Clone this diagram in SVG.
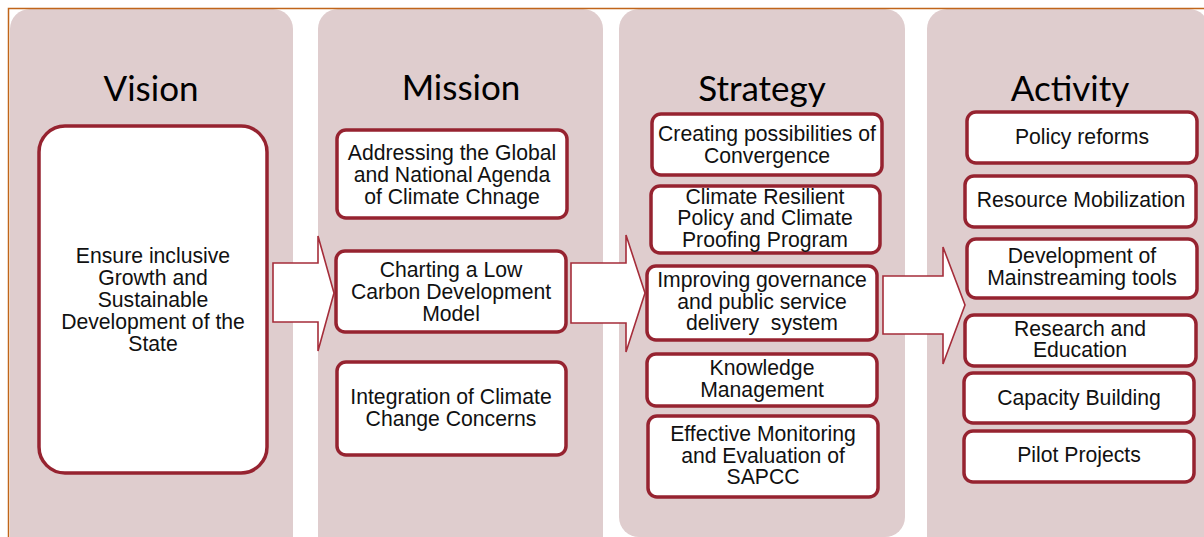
<svg xmlns="http://www.w3.org/2000/svg" width="1204" height="537" viewBox="0 0 1204 537">
  <style>
    .panel { fill: #dfcdce; }
    .title { font-family: Lato, "Open Sans", sans-serif; font-size: 35px; fill: #000; text-anchor: middle; }
    .box { fill: #ffffff; stroke: #962330; stroke-width: 3.5; }
    .lbl { font-family: "Liberation Sans", Arial, sans-serif; font-size: 21.2px; fill: #111; text-anchor: middle; }
    .arrow { fill: #ffffff; stroke: #a52d3a; stroke-width: 1.6; stroke-linejoin: miter; }
    .frame { fill: none; stroke: #c0651a; stroke-width: 1.5; }
  </style>

  <rect x="0" y="0" width="1204" height="537" fill="#ffffff"/>

  <!-- column backgrounds -->
  <g id="panels">
    <rect class="panel" x="10" y="9" width="283" height="550" rx="20"/>
    <rect class="panel" x="318" y="9" width="285" height="550" rx="20"/>
    <rect class="panel" x="619" y="9" width="286" height="528" rx="20"/>
    <rect class="panel" x="927" y="9" width="282" height="550" rx="20"/>
  </g>

  <!-- outer frame (top and left edges) -->
  <path class="frame" d="M8.5 537 V8.5 H1204"/>

  <!-- column headings -->
  <g id="titles">
    <text class="title" x="151" y="101">Vision</text>
    <text class="title" x="461" y="100">Mission</text>
    <text class="title" x="762" y="101">Strategy</text>
    <text class="title" x="1070" y="101">Activity</text>
  </g>

  <!-- block arrows between columns -->
  <g id="connectors">
    <path class="arrow" d="M273 263 H318 V236 L334 293 L318 351 V322 H273 Z"/>
    <path class="arrow" d="M571 263 H626 V235 L645 293 L626 352 V323 H571 Z"/>
    <path class="arrow" d="M883 276 H943 V247 L965 305 L943 364 V334 H883 Z"/>
  </g>

  <!-- Vision -->
  <g id="vision">
    <rect class="box" x="39" y="126" width="228" height="347" rx="26"/>
    <text class="lbl" x="153" y="263">Ensure inclusive</text>
    <text class="lbl" x="153" y="285">Growth and</text>
    <text class="lbl" x="153" y="307">Sustainable</text>
    <text class="lbl" x="153" y="329">Development of the</text>
    <text class="lbl" x="153" y="351">State</text>
  </g>

  <!-- Mission -->
  <g id="mission-agenda">
    <rect class="box" x="337" y="130" width="230" height="88" rx="9"/>
    <text class="lbl" x="452" y="160">Addressing the Global</text>
    <text class="lbl" x="452" y="182">and National Agenda</text>
    <text class="lbl" x="452" y="204">of Climate Chnage</text>
  </g>
  <g id="mission-lowcarbon">
    <rect class="box" x="336" y="251" width="230" height="81" rx="9"/>
    <text class="lbl" x="451" y="277">Charting a Low</text>
    <text class="lbl" x="451" y="299">Carbon Development</text>
    <text class="lbl" x="451" y="321">Model</text>
  </g>
  <g id="mission-integration">
    <rect class="box" x="337" y="362" width="229" height="93" rx="9"/>
    <text class="lbl" x="451" y="404">Integration of Climate</text>
    <text class="lbl" x="451" y="426">Change Concerns</text>
  </g>

  <!-- Strategy -->
  <g id="strategy-convergence">
    <rect class="box" x="652" y="114" width="230" height="61" rx="9"/>
    <text class="lbl" x="767" y="141">Creating possibilities of</text>
    <text class="lbl" x="767" y="163">Convergence</text>
  </g>
  <g id="strategy-resilient">
    <rect class="box" x="651" y="186" width="229" height="67" rx="9"/>
    <text class="lbl" x="765" y="204">Climate Resilient</text>
    <text class="lbl" x="765" y="225">Policy and Climate</text>
    <text class="lbl" x="765" y="247">Proofing Program</text>
  </g>
  <g id="strategy-governance">
    <rect class="box" x="647" y="266" width="230" height="74" rx="9"/>
    <text class="lbl" x="762" y="287">Improving governance</text>
    <text class="lbl" x="762" y="309">and public service</text>
    <text class="lbl" x="762" y="330" xml:space="preserve">delivery  system</text>
  </g>
  <g id="strategy-knowledge">
    <rect class="box" x="647" y="354" width="230" height="52" rx="9"/>
    <text class="lbl" x="762" y="375">Knowledge</text>
    <text class="lbl" x="762" y="397">Management</text>
  </g>
  <g id="strategy-monitoring">
    <rect class="box" x="648" y="416" width="230" height="81" rx="9"/>
    <text class="lbl" x="763" y="441">Effective Monitoring</text>
    <text class="lbl" x="763" y="463">and Evaluation of</text>
    <text class="lbl" x="763" y="484">SAPCC</text>
  </g>

  <!-- Activity -->
  <g id="activity-policy">
    <rect class="box" x="967" y="112" width="230" height="51" rx="9"/>
    <text class="lbl" x="1082" y="144">Policy reforms</text>
  </g>
  <g id="activity-resource">
    <rect class="box" x="965" y="176" width="231" height="51" rx="9"/>
    <text class="lbl" x="1081" y="207">Resource Mobilization</text>
  </g>
  <g id="activity-tools">
    <rect class="box" x="967" y="239" width="230" height="59" rx="9"/>
    <text class="lbl" x="1082" y="263">Development of</text>
    <text class="lbl" x="1082" y="285">Mainstreaming tools</text>
  </g>
  <g id="activity-research">
    <rect class="box" x="965" y="315" width="231" height="51" rx="9"/>
    <text class="lbl" x="1080" y="336">Research and</text>
    <text class="lbl" x="1080" y="357">Education</text>
  </g>
  <g id="activity-capacity">
    <rect class="box" x="964" y="373" width="230" height="50" rx="9"/>
    <text class="lbl" x="1079" y="405">Capacity Building</text>
  </g>
  <g id="activity-pilot">
    <rect class="box" x="964" y="431" width="230" height="51" rx="9"/>
    <text class="lbl" x="1079" y="462">Pilot Projects</text>
  </g>
</svg>
